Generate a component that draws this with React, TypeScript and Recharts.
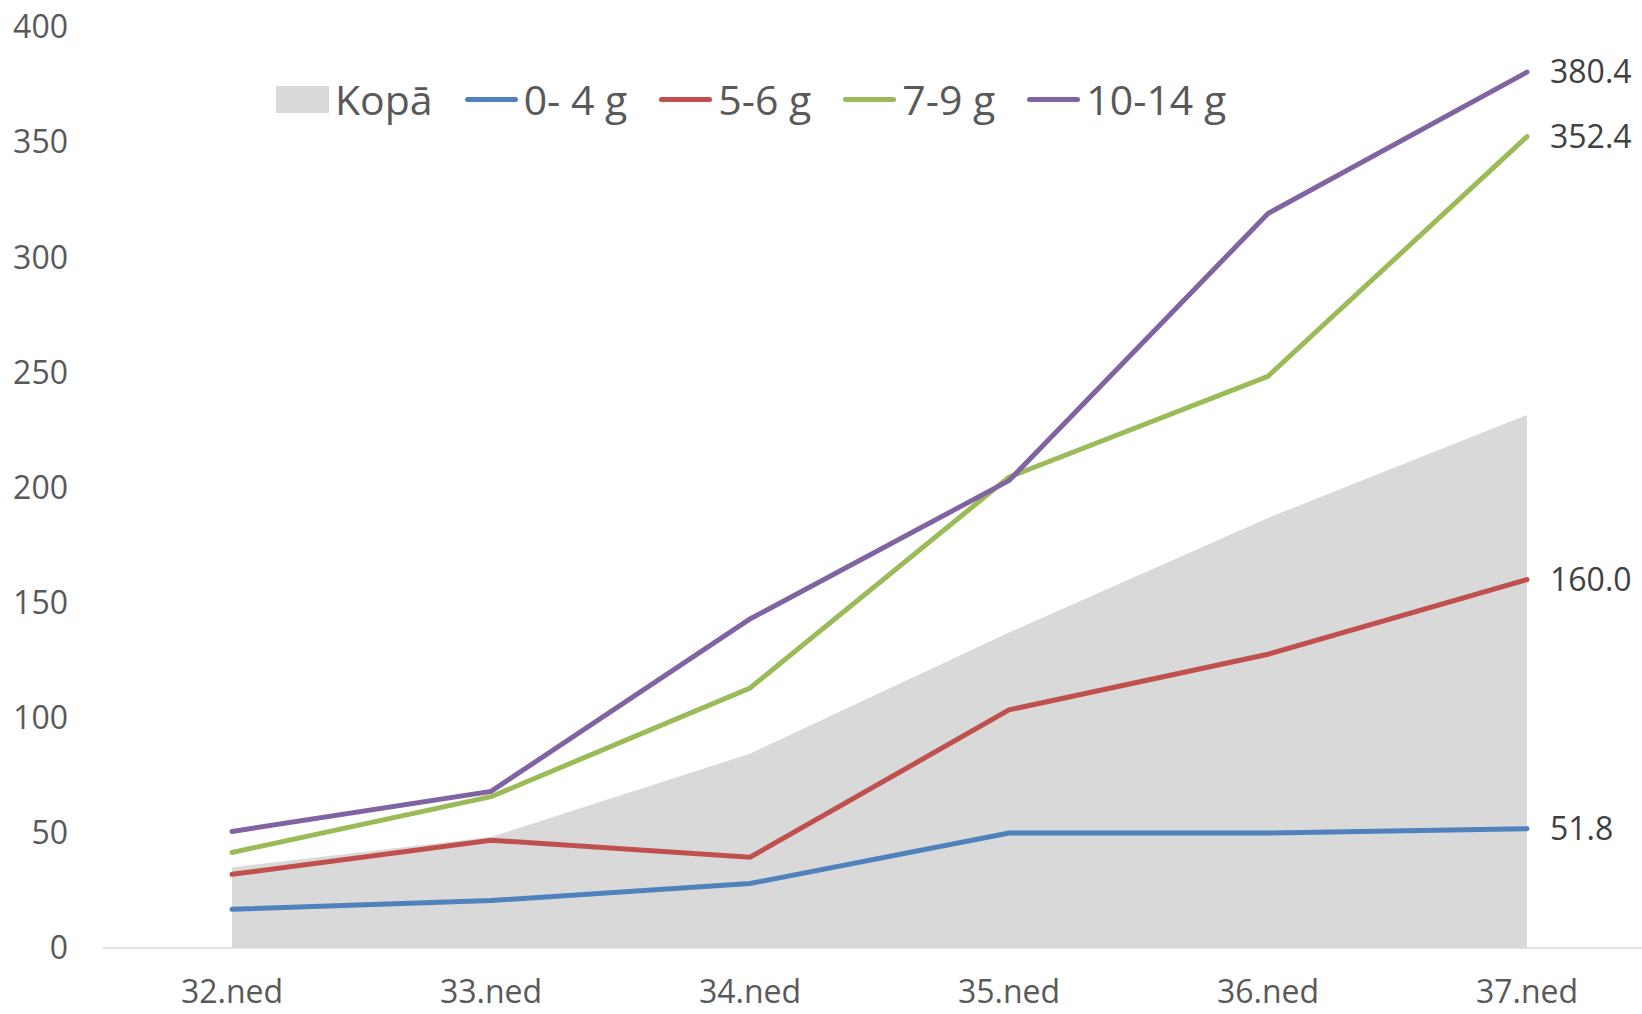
import { ComposedChart, Area, Line, XAxis, YAxis, LabelList } from "recharts";

const weeks = ["32.ned", "33.ned", "34.ned", "35.ned", "36.ned", "37.ned"];
const kopa = [35, 48.2, 84.4, 137, 186.8, 231.5];
const g0_4 = [16.8, 20.6, 28, 49.9, 49.9, 51.8];
const g5_6 = [32, 46.8, 39.4, 103.4, 127.6, 160.0];
const g7_9 = [41.5, 65.7, 112.9, 204.5, 248.3, 352.4];
const g10_14 = [50.6, 68, 142.9, 203, 319, 380.4];
const yTicks = [0, 50, 100, 150, 200, 250, 300, 350, 400];

const data = weeks.map((week, i) => ({
  week,
  kopa: kopa[i],
  g0_4: g0_4[i],
  g5_6: g5_6[i],
  g7_9: g7_9[i],
  g10_14: g10_14[i],
}));

const lines = [
  { key: "g0_4", name: "0- 4 g", color: "#4F81BD" },
  { key: "g5_6", name: "5-6 g", color: "#C0504D" },
  { key: "g7_9", name: "7-9 g", color: "#9BBB59" },
  { key: "g10_14", name: "10-14 g", color: "#8064A2" },
];

const FONT = "'Open Sans', sans-serif";
const last = weeks.length - 1;

// only the last point of each line gets a value label
const EndLabel = (props: any) => {
  const { x, y, value, index } = props;
  if (index !== last) return null;
  return (
    <text x={x + 23} y={y} dy="0.35em" fill="#404040" fontSize={32} fontFamily={FONT} textAnchor="start">
      {Number(value).toFixed(1)}
    </text>
  );
};

function ChartLegend() {
  return (
    <div
      style={{
        position: "absolute",
        left: 276,
        top: 72,
        height: 54,
        display: "flex",
        alignItems: "center",
        fontFamily: FONT,
        fontSize: 41,
        color: "#595959",
        whiteSpace: "nowrap",
      }}
    >
      <span style={{ display: "inline-block", width: 53, height: 27, background: "#D9D9D9", marginRight: 6 }} />
      <span style={{ marginRight: 32 }}>Kopā</span>
      {lines.map((l) => (
        <span key={l.key} style={{ display: "flex", alignItems: "center", marginRight: 32 }}>
          <span
            style={{ display: "inline-block", width: 53, height: 5, borderRadius: 3, background: l.color, marginRight: 6 }}
          />
          <span>{l.name}</span>
        </span>
      ))}
    </div>
  );
}

export default function App() {
  return (
    <div style={{ position: "absolute", left: 0, top: 0, width: 1642, height: 1014, overflow: "hidden", background: "#fff" }}>
      <ComposedChart width={1656} height={1014} data={data} margin={{ top: 27, right: 0, bottom: 0, left: 0 }}>
        <XAxis
          dataKey="week"
          height={66}
          padding={{ left: 129, right: 129 }}
          tickLine={false}
          axisLine={{ stroke: "#D9D9D9", strokeWidth: 1.5 }}
          tickMargin={26}
          tick={{ fill: "#595959", fontSize: 32, fontFamily: FONT }}
        />
        <YAxis
          width={103}
          domain={[0, 400]}
          ticks={yTicks}
          axisLine={false}
          tickLine={false}
          tickMargin={29}
          tick={{ fill: "#595959", fontSize: 32, fontFamily: FONT }}
        />
        <Area
          type="linear"
          dataKey="kopa"
          name="Kopā"
          fill="#D9D9D9"
          fillOpacity={1}
          stroke="none"
          isAnimationActive={false}
        />
        {lines.map((l) => (
          <Line
            key={l.key}
            type="linear"
            dataKey={l.key}
            name={l.name}
            stroke={l.color}
            strokeWidth={5}
            strokeLinecap="round"
            dot={false}
            activeDot={false}
            isAnimationActive={false}
          >
            <LabelList dataKey={l.key} content={EndLabel} />
          </Line>
        ))}
      </ComposedChart>
      <ChartLegend />
    </div>
  );
}
